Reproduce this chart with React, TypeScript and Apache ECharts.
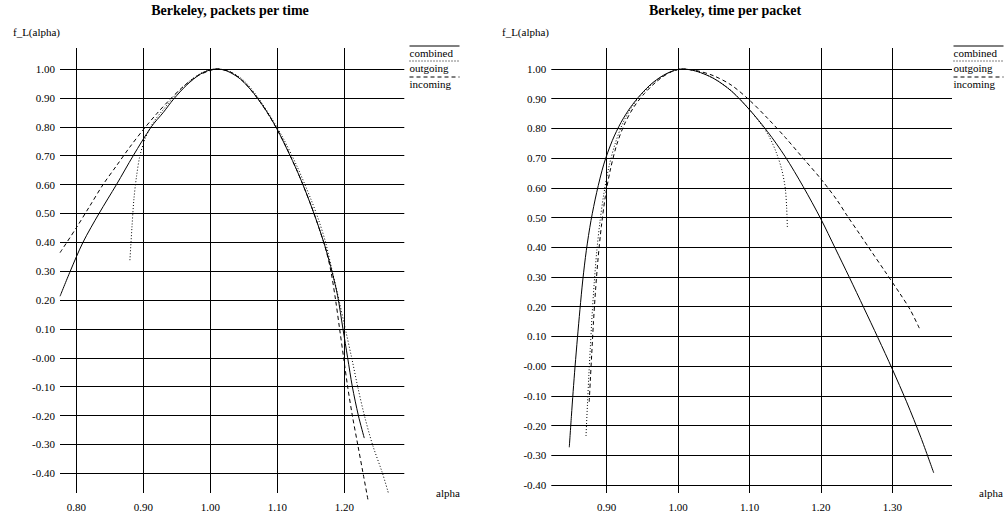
import React, { useEffect, useRef } from "react";
import * as echarts from "echarts";

// ---------- data ----------
const leftTitle = "Berkeley, packets per time";
const rightTitle = "Berkeley, time per packet";
const yName = "f_L(alpha)";
const xName = "alpha";
const seriesNames = ["combined", "outgoing", "incoming"];

const leftXTicks = [0.8, 0.9, 1.0, 1.1, 1.2];
const rightXTicks = [0.9, 1.0, 1.1, 1.2, 1.3];
const yTicks = [1.0, 0.9, 0.8, 0.7, 0.6, 0.5, 0.4, 0.3, 0.2, 0.1, 0.0, -0.1, -0.2, -0.3, -0.4];

// left panel: packets per time
const leftCombined: [number, number][] = [
  [0.7757, 0.213], [0.791, 0.30], [0.81, 0.40], [0.834, 0.50], [0.86, 0.60],
  [0.885, 0.70], [0.912, 0.80], [0.93, 0.85], [0.945, 0.895], [0.965, 0.945],
  [0.985, 0.982], [1.0, 0.997], [1.01, 1.0], [1.025, 0.993], [1.045, 0.965],
  [1.065, 0.915], [1.085, 0.85], [1.10, 0.79], [1.115, 0.72], [1.13, 0.645],
  [1.145, 0.56], [1.16, 0.465], [1.172, 0.38], [1.182, 0.295], [1.19, 0.215],
  [1.198, 0.10], [1.205, 0.0], [1.212, -0.10], [1.221, -0.20], [1.2298, -0.278],
];
const leftOutgoing: [number, number][] = [
  [0.880, 0.338], [0.883, 0.45], [0.886, 0.55], [0.890, 0.63], [0.895, 0.70],
  [0.903, 0.76], [0.915, 0.815], [0.93, 0.86], [0.95, 0.915], [0.97, 0.96],
  [0.99, 0.99], [1.01, 1.0], [1.03, 0.99], [1.05, 0.96], [1.07, 0.905],
  [1.09, 0.835], [1.11, 0.755], [1.13, 0.66], [1.15, 0.55], [1.162, 0.475],
  [1.172, 0.40], [1.182, 0.30], [1.192, 0.20], [1.2015, 0.10], [1.211, 0.0],
  [1.22, -0.10], [1.23, -0.20], [1.242, -0.30], [1.257, -0.40], [1.266, -0.47],
];
const leftIncoming: [number, number][] = [
  [0.7757, 0.364], [0.80, 0.45], [0.82, 0.525], [0.84, 0.60], [0.86, 0.665],
  [0.88, 0.73], [0.90, 0.79], [0.92, 0.845], [0.94, 0.895], [0.96, 0.94],
  [0.98, 0.975], [1.0, 0.995], [1.01, 1.0], [1.03, 0.99], [1.05, 0.955],
  [1.07, 0.90], [1.09, 0.83], [1.11, 0.745], [1.13, 0.645], [1.15, 0.53],
  [1.165, 0.43], [1.173, 0.37], [1.18, 0.30], [1.187, 0.20], [1.193, 0.10],
  [1.199, 0.0], [1.205, -0.10], [1.212, -0.20], [1.22, -0.30], [1.228, -0.40],
  [1.236, -0.50],
];

// right panel: time per packet
const rightCombined: [number, number][] = [
  [0.8476, -0.273], [0.8505, -0.17], [0.853, -0.085], [0.8557, 0.0], [0.859, 0.095],
  [0.8625, 0.19], [0.8665, 0.29], [0.8715, 0.39], [0.878, 0.49], [0.886, 0.585],
  [0.896, 0.68], [0.908, 0.76], [0.92, 0.82], [0.933, 0.87], [0.948, 0.915],
  [0.965, 0.955], [0.985, 0.986], [1.005, 1.0], [1.025, 0.993], [1.05, 0.968],
  [1.075, 0.925], [1.10, 0.863], [1.125, 0.79], [1.15, 0.705], [1.175, 0.605],
  [1.20, 0.495], [1.22, 0.397], [1.24, 0.298], [1.26, 0.197], [1.28, 0.095],
  [1.30, -0.01], [1.32, -0.12], [1.34, -0.24], [1.358, -0.359],
];
const rightOutgoing: [number, number][] = [
  [0.871, -0.235], [0.873, -0.13], [0.875, -0.03], [0.877, 0.06], [0.8795, 0.17],
  [0.8825, 0.28], [0.886, 0.385], [0.8905, 0.485], [0.896, 0.58], [0.903, 0.67],
  [0.912, 0.75], [0.923, 0.82], [0.936, 0.875], [0.951, 0.92], [0.968, 0.958],
  [0.987, 0.987], [1.005, 1.0], [1.025, 0.993], [1.05, 0.968], [1.075, 0.926],
  [1.10, 0.863], [1.115, 0.818], [1.127, 0.775], [1.137, 0.722], [1.145, 0.663],
  [1.15, 0.60], [1.152, 0.535], [1.153, 0.467],
];
const rightIncoming: [number, number][] = [
  [0.8755, -0.12], [0.877, -0.05], [0.879, 0.04], [0.8815, 0.15], [0.8845, 0.26],
  [0.888, 0.365], [0.8925, 0.47], [0.898, 0.57], [0.905, 0.66], [0.914, 0.745],
  [0.925, 0.815], [0.938, 0.872], [0.953, 0.918], [0.97, 0.958], [0.988, 0.988],
  [1.005, 1.0], [1.025, 0.995], [1.05, 0.977], [1.075, 0.945], [1.10, 0.895],
  [1.125, 0.835], [1.15, 0.77], [1.175, 0.70], [1.20, 0.63], [1.2225, 0.559],
  [1.236, 0.509], [1.255, 0.442], [1.271, 0.385], [1.29, 0.318], [1.311, 0.243],
  [1.325, 0.19], [1.338, 0.127],
];

// ---------- layout / style ----------
const FONT = "'Liberation Serif', 'Times New Roman', serif";
const W = 1006;
const H = 513;
const GRID_TOP = 48;
const GRID_BOTTOM_Y = 493;
const LEFT_GRID = { left: 60, right: 404.3 };
const RIGHT_GRID = { left: 551.3, right: 952 };
const LEFT_X_RANGE = [0.77567, 1.28955];
const RIGHT_X_RANGE = [0.8224, 1.3836];
const LEFT_Y_RANGE = [-0.4682, 1.0727];
const RIGHT_Y_RANGE = [-0.4269, 1.0707];

const lineTypes: any[] = ["solid", [1, 2], [4, 3]];

function fmtY(v: number) {
  if (Math.abs(v) < 1e-9) return "-0.00";
  return v.toFixed(2);
}

function buildOption() {
  const grids = [LEFT_GRID, RIGHT_GRID].map((g) => ({
    left: g.left,
    width: g.right - g.left,
    top: GRID_TOP,
    height: GRID_BOTTOM_Y - GRID_TOP,
    containLabel: false,
  }));

  const xRanges = [LEFT_X_RANGE, RIGHT_X_RANGE];
  const yRanges = [LEFT_Y_RANGE, RIGHT_Y_RANGE];
  const xTicks = [leftXTicks, rightXTicks];

  const xAxis = [0, 1].map((i) => ({
    type: "value",
    gridIndex: i,
    min: xRanges[i][0],
    max: xRanges[i][1],
    axisLine: { show: false },
    axisTick: { show: false },
    splitLine: { show: false },
    axisLabel: {
      customValues: xTicks[i],
      formatter: (v: number) => v.toFixed(2),
      margin: 8,
      color: "#000",
      fontFamily: FONT,
      fontSize: 11,
    },
  }));
  const yAxis = [0, 1].map((i) => ({
    type: "value",
    gridIndex: i,
    min: yRanges[i][0],
    max: yRanges[i][1],
    axisLine: { show: false },
    axisTick: { show: false },
    splitLine: { show: false },
    axisLabel: {
      customValues: yTicks,
      formatter: fmtY,
      margin: 5,
      color: "#000",
      fontFamily: FONT,
      fontSize: 11,
    },
  }));

  const panels = [
    [leftCombined, leftOutgoing, leftIncoming],
    [rightCombined, rightOutgoing, rightIncoming],
  ];

  const series: any[] = [];
  panels.forEach((p, i) => {
    p.forEach((d, k) => {
      const s: any = {
        type: "line",
        name: seriesNames[k],
        xAxisIndex: i,
        yAxisIndex: i,
        data: d,
        showSymbol: false,
        symbol: "none",
        smooth: 0.3,
        clip: false,
        silent: true,
        lineStyle: { color: "#000", width: 1, type: lineTypes[k] },
      };
      if (k === 0) {
        s.markLine = {
          silent: true,
          symbol: ["none", "none"],
          label: { show: false },
          lineStyle: { color: "#000", width: 1, type: "solid" },
          emphasis: { disabled: true },
          data: [
            ...xTicks[i].map((v) => ({ xAxis: v })),
            ...yTicks.map((v) => ({ yAxis: v })),
          ],
        };
      }
      series.push(s);
    });
  });

  const textStyle = (t: string, x: number, y: number, align: string, size = 11, weight = "normal") => ({
    type: "text",
    x,
    y,
    silent: true,
    style: {
      text: t,
      fill: "#000",
      font: `${weight} ${size}px ${FONT}`,
      textAlign: align,
      textVerticalAlign: "middle",
    },
  });

  const legendGroup = (x0: number) => {
    const items: any[] = [];
    const ys = [46, 61, 77];
    seriesNames.forEach((n, k) => {
      items.push({
        type: "line",
        silent: true,
        shape: { x1: x0, y1: ys[k], x2: x0 + 50, y2: ys[k] },
        style: { stroke: "#000", lineWidth: 1, lineDash: k === 0 ? null : lineTypes[k] },
      });
      items.push(textStyle(n, x0, ys[k] + 7, "left", 11));
    });
    return items;
  };

  const graphic: any[] = [
    textStyle(leftTitle, 230, 10, "center", 14, "bold"),
    textStyle(rightTitle, 725, 10, "center", 14, "bold"),
    textStyle(yName, 60, 31.5, "right", 11),
    textStyle(yName, 549, 31.5, "right", 11),
    textStyle(xName, 436, 493, "left", 11),
    textStyle(xName, 979, 493, "left", 11),
    ...legendGroup(409.5),
    ...legendGroup(953.5),
  ];

  return {
    animation: false,
    backgroundColor: "#fff",
    grid: grids,
    xAxis,
    yAxis,
    series,
    graphic,
  };
}

export default function App() {
  const ref = useRef<HTMLDivElement>(null);
  useEffect(() => {
    if (!ref.current) return;
    const chart = echarts.init(ref.current, undefined, { renderer: "svg" });
    chart.setOption(buildOption() as any);
    return () => chart.dispose();
  }, []);
  return (
    <div
      ref={ref}
      style={{ position: "fixed", left: 0, top: 0, width: W, height: H, background: "#fff" }}
    />
  );
}
